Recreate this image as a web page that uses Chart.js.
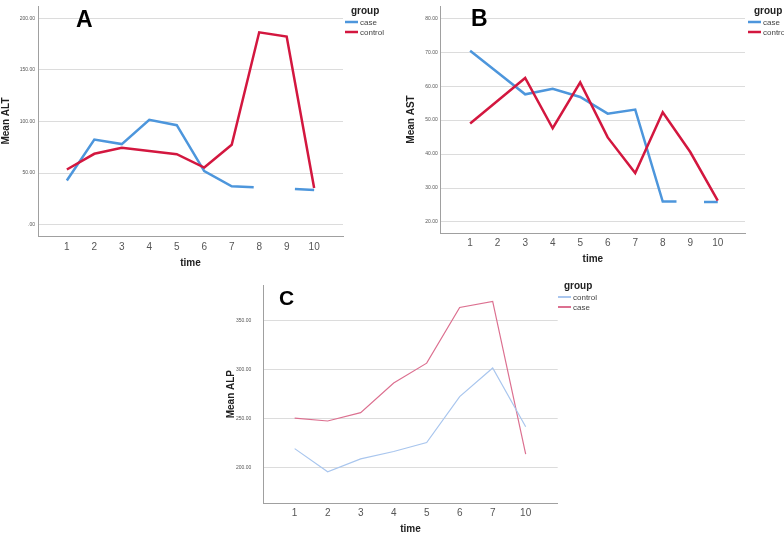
<!DOCTYPE html>
<html>
<head>
<meta charset="utf-8">
<title>Mean ALT / AST / ALP by time</title>
<script src="https://cdn.jsdelivr.net/npm/chart.js@4.4.1/dist/chart.umd.min.js"></script>
<style>
  body { margin: 0; background: #fff; }
  #page { position: relative; width: 784px; height: 533px; overflow: hidden; }
  .panel { position: absolute; }
</style>
</head>
<body>
<div id="page">
  <div class="panel" style="left:0;top:0;width:392px;height:270px"><canvas id="chartA"></canvas></div>
  <div class="panel" style="left:392px;top:0;width:392px;height:270px"><canvas id="chartB"></canvas></div>
  <div class="panel" style="left:220px;top:270px;width:392px;height:266px"><canvas id="chartC"></canvas></div>
</div>
<script>
// data
const timeTicks = [1, 2, 3, 4, 5, 6, 7, 8, 9, 10];

// A - ALT
const altCaseTime = [1, 2, 3, 4, 5, 6, 7, 7.8, 8.5, 9.3, 10];
const altCase = [42.8, 82.5, 78.1, 101.7, 96.4, 52.0, 37.2, 36.2, null, 34.6, 33.7];
const altControl = [53.5, 68.7, 74.6, 71.5, 68.3, 55.4, 77.5, 186.5, 182.4, 35.6];
const altTicks = [0, 50, 100, 150, 200];

// B - AST
const astCaseTime = [1, 2, 3, 4, 5, 6, 7, 8, 8.5, 9, 9.5, 10];
const astCase = [70.4, 64.0, 57.6, 59.2, 56.8, 51.9, 53.1, 26.0, 26.0, null, 25.9, 25.9];
const astControl = [49.0, 55.7, 62.4, 47.6, 61.1, 44.9, 34.4, 52.3, 40.6, 26.3];
const astTicks = [20, 30, 40, 50, 60, 70, 80];

// C - ALP (time points 8 and 9 absent)
const alpTimeLabels = ['1', '2', '3', '4', '5', '6', '7', '10'];
const alpControl = [219.6, 196.1, 209.2, 216.7, 225.8, 272.5, 301.6, 241.8];
const alpCase = [250.7, 247.7, 256.2, 286.3, 306.5, 363.1, 369.3, 214.1];
const alpTicks = [200, 250, 300, 350];

const BLUE = '#4d96dc';
const RED = '#d3173f';
const LIGHT_BLUE = '#a9c6ee';
const PINK = '#dc7090';
const FONT = "'Liberation Sans', Arial, sans-serif";

function pts(xs, ys) {
  return ys.map((y, i) => ({ x: xs[i], y: y }));
}

// panel letter + SPSS style legend
const panelDecor = {
  id: 'panelDecor',
  afterDraw(chart, args, o) {
    const ctx = chart.ctx;
    ctx.save();
    ctx.fillStyle = '#000';
    ctx.font = 'bold ' + o.letterSize + 'px ' + FONT;
    ctx.textBaseline = 'alphabetic';
    ctx.fillText(o.letter, o.letterX, o.letterY);

    ctx.fillStyle = '#222';
    ctx.font = 'bold 10px ' + FONT;
    ctx.fillText('group', o.legendX + 6, o.legendY);
    ctx.font = '8px ' + FONT;
    chart.data.datasets.forEach((ds, i) => {
      const y = o.legendY + 8.5 + i * 10;
      ctx.strokeStyle = ds.borderColor;
      ctx.lineWidth = Math.max(ds.borderWidth, 2);
      ctx.beginPath();
      ctx.moveTo(o.legendX, y);
      ctx.lineTo(o.legendX + 13, y);
      ctx.stroke();
      ctx.fillStyle = '#444';
      ctx.textBaseline = 'middle';
      ctx.fillText(ds.label, o.legendX + 15, y + 0.5);
    });
    ctx.restore();
  }
};

function makeChart(id, cfg) {
  return new Chart(document.getElementById(id), {
    type: 'line',
    data: { datasets: cfg.datasets },
    options: {
      responsive: true,
      maintainAspectRatio: false,
      animation: false,
      layout: { autoPadding: false, padding: cfg.padding },
      elements: { point: { radius: 0 }, line: { tension: 0, borderCapStyle: 'butt' } },
      plugins: {
        legend: { display: false },
        tooltip: { enabled: false },
        panelDecor: cfg.decor
      },
      scales: {
        x: {
          type: 'linear',
          min: cfg.xMin, max: cfg.xMax,
          afterBuildTicks: s => { s.ticks = cfg.xTicks.map(v => ({ value: v })); },
          afterFit: s => { s.height = cfg.xHeight; },
          grid: { display: false, drawTicks: false },
          border: { color: '#a0a0a0' },
          ticks: {
            color: '#555', padding: cfg.xPad, maxRotation: 0, autoSkip: false,
            font: { family: FONT, size: 10 },
            callback: cfg.xLabel
          },
          title: {
            display: true, text: 'time', color: '#222',
            font: { family: FONT, size: 10, weight: 'bold' },
            padding: { top: 0, bottom: cfg.xTitlePad }
          }
        },
        y: {
          min: cfg.yMin, max: cfg.yMax,
          afterBuildTicks: s => { s.ticks = cfg.yTicks.map(v => ({ value: v })); },
          afterFit: s => { s.width = cfg.yWidth; },
          grid: { color: '#dcdcdc', drawTicks: false },
          border: { color: '#a0a0a0' },
          ticks: {
            color: '#555', padding: cfg.yPad, autoSkip: false,
            font: { family: FONT, size: 5 },
            callback: v => v === 0 ? '.00' : v.toFixed(2)
          },
          title: {
            display: true, text: cfg.yTitle, color: '#222',
            font: { family: FONT, size: 10, weight: 'bold' },
            padding: { top: cfg.yTitlePad, bottom: 0 }
          }
        }
      }
    },
    plugins: [panelDecor]
  });
}

makeChart('chartA', {
  datasets: [
    { label: 'case', data: pts(altCaseTime, altCase), borderColor: BLUE, borderWidth: 2.5, spanGaps: false, order: 2 },
    { label: 'control', data: pts(timeTicks, altControl), borderColor: RED, borderWidth: 2.5, order: 1 }
  ],
  padding: { left: 0, top: 0, right: 49, bottom: 0 },
  xMin: -0.05, xMax: 11.05, xTicks: timeTicks, xHeight: 34, xPad: 5, xTitlePad: 1,
  xLabel: v => String(v),
  yMin: -11, yMax: 212, yTicks: altTicks, yWidth: 38, yPad: 3, yTitle: 'Mean ALT', yTitlePad: 0,
  decor: { letter: 'A', letterSize: 23, letterX: 76, letterY: 27, legendX: 345, legendY: 13.5 }
});

makeChart('chartB', {
  datasets: [
    { label: 'case', data: pts(astCaseTime, astCase), borderColor: BLUE, borderWidth: 2.5, spanGaps: false, order: 2 },
    { label: 'control', data: pts(timeTicks, astControl), borderColor: RED, borderWidth: 2.5, order: 1 }
  ],
  padding: { left: 0, top: 0, right: 39, bottom: 0 },
  xMin: -0.07, xMax: 10.99, xTicks: timeTicks, xHeight: 37, xPad: 4, xTitlePad: 5,
  xLabel: v => String(v),
  yMin: 16.75, yMax: 83.6, yTicks: astTicks, yWidth: 48.7, yPad: 3, yTitle: 'Mean AST', yTitlePad: 13.7,
  decor: { letter: 'B', letterSize: 23, letterX: 79, letterY: 26, legendX: 356, legendY: 13.5 }
});

makeChart('chartC', {
  datasets: [
    { label: 'control', data: pts(alpTimeLabels.map((t, i) => i + 1), alpControl), borderColor: LIGHT_BLUE, borderWidth: 1.2 },
    { label: 'case', data: pts(alpTimeLabels.map((t, i) => i + 1), alpCase), borderColor: PINK, borderWidth: 1.2 }
  ],
  padding: { left: 0, top: 6.7, right: 54.3, bottom: 0 },
  xMin: 0.05, xMax: 8.97, xTicks: alpTimeLabels.map((t, i) => i + 1), xHeight: 32.7, xPad: 4, xTitlePad: 1,
  xLabel: v => alpTimeLabels[v - 1],
  yMin: 164, yMax: 386, yTicks: alpTicks, yWidth: 43.3, yPad: 12, yTitle: 'Mean ALP', yTitlePad: 5.7,
  decor: { letter: 'C', letterSize: 21, letterX: 59, letterY: 35, legendX: 338, legendY: 18.5 }
});
</script>
</body>
</html>
